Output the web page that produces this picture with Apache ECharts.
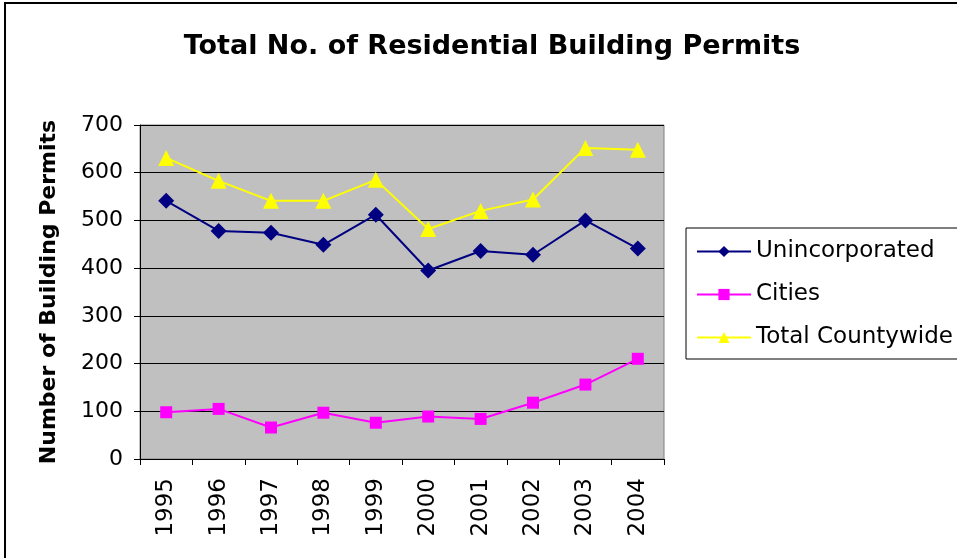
<!DOCTYPE html>
<html><head><meta charset="utf-8">
<script src="https://cdn.jsdelivr.net/npm/echarts@6/dist/echarts.min.js"></script>
<style>html,body{margin:0;padding:0;background:#fff}#c{width:957px;height:558px}</style>
</head><body><div id="c"></div>
<script>
const years = ['1995','1996','1997','1998','1999','2000','2001','2002','2003','2004'];
const unincorporated = [541, 478, 474, 449, 512, 395, 436, 428, 500, 441];
const cities = [98, 105, 66, 97, 76, 89, 84, 118, 156, 210];
const totalCountywide = [631, 583, 541, 541, 585, 482, 520, 544, 652, 648];
const yTicks = {min: 0, max: 700, interval: 100};

const F = '"DejaVu Sans", "Liberation Sans", Arial, sans-serif';
const chart = echarts.init(document.getElementById('c'), null, {renderer: 'canvas'});
chart.setOption({
  animation: false,
  backgroundColor: '#fff',
  graphic: [{type: 'rect', shape: {x: 5, y: 3, width: 1000, height: 600}, style: {fill: 'none', stroke: '#000', lineWidth: 2}, z: 100}],
  title: {text: 'Total No. of Residential Building Permits', left: 487, top: 28, textAlign: 'center',
    textStyle: {fontFamily: F, fontSize: 27, fontWeight: 'bold', color: '#000'}},
  legend: {left: 686, top: 228, orient: 'vertical', itemWidth: 54, itemHeight: 14, itemGap: 20,
    padding: [12, 30, 10, 10], borderColor: '#000', borderWidth: 1, backgroundColor: '#fff',
    textStyle: {fontFamily: F, fontSize: 23, color: '#000', lineHeight: 20},
    data: ['Unincorporated', 'Cities', 'Total Countywide']},
  grid: {left: 140, right: 293, top: 125, bottom: 99, show: true, backgroundColor: '#c0c0c0', borderColor: '#808080', borderWidth: 1},
  xAxis: {type: 'category', data: years, boundaryGap: true,
    axisLine: {lineStyle: {color: '#000', width: 1}},
    axisTick: {show: true, length: 6, lineStyle: {color: '#000'}},
    axisLabel: {rotate: 90, margin: 19, fontFamily: F, fontSize: 23, color: '#000'}},
  yAxis: {type: 'value', min: yTicks.min, max: yTicks.max, interval: yTicks.interval,
    name: 'Number of Building Permits', nameLocation: 'middle', nameGap: 80, nameRotate: 90,
    nameTextStyle: {fontFamily: F, fontSize: 22, fontWeight: 'bold', color: '#000'},
    axisLine: {show: true, lineStyle: {color: '#000'}},
    axisTick: {show: true, length: 6, lineStyle: {color: '#000'}},
    axisLabel: {margin: 17, fontFamily: F, fontSize: 22, color: '#000'},
    splitLine: {lineStyle: {color: '#000', width: 1}}},
  series: [
    {name: 'Unincorporated', type: 'line', data: unincorporated, symbol: 'diamond', symbolSize: 16,
      itemStyle: {color: '#000080'}, lineStyle: {color: '#000080', width: 2}},
    {name: 'Cities', type: 'line', data: cities, symbol: 'rect', symbolSize: 12,
      itemStyle: {color: '#ff00ff'}, lineStyle: {color: '#ff00ff', width: 2}},
    {name: 'Total Countywide', type: 'line', data: totalCountywide, symbol: 'triangle', symbolSize: 16,
      itemStyle: {color: '#ffff00'}, lineStyle: {color: '#ffff00', width: 2}}
  ]
});
</script></body></html>
